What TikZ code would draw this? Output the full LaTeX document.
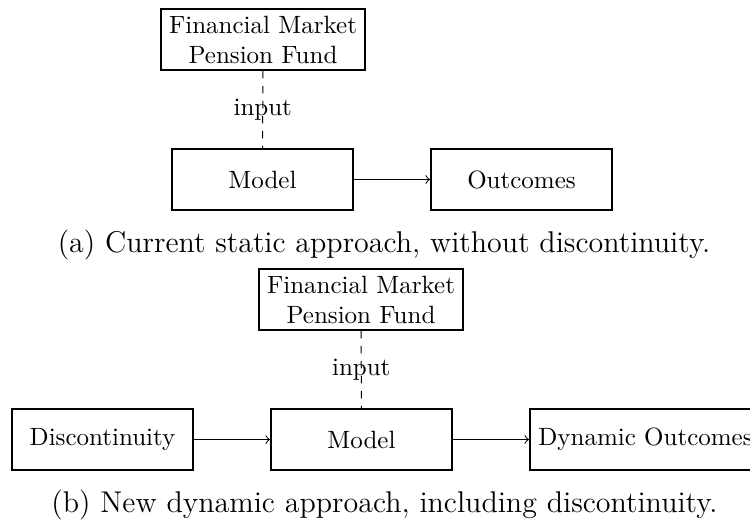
\documentclass[tikz,border=0pt]{standalone}
\usetikzlibrary{arrows}
\begin{document}
\begin{tikzpicture}[x=0.4pt,y=-0.4pt,
  box/.style={draw, line width=0.8pt, minimum width=72.4pt, minimum height=24.4pt, inner sep=3.33pt},
  srcbox/.style={draw, line width=0.8pt, align=center, inner xsep=3.33pt, inner ysep=2.6pt},
  link/.style={->, line width=0.4pt},
  feed/.style={dashed, line width=0.4pt},
  caption/.style={font=\large, inner sep=0pt, anchor=base}]
\useasboundingbox (0,0) rectangle (750,520);

% (a) static approach
\node[srcbox] (fma) at (263,39.5) {Financial Market\\Pension Fund};
\node[box] (modela) at (262.5,179.5) {Model};
\node[box] (outa) at (521.5,179.5) {Outcomes};
\draw[feed] (fma) -- node {input} (modela);
\draw[link] (modela) -- (outa);
\node[caption] (capa) at (384,252) {(a) Current static approach, without discontinuity.};

% (b) dynamic approach
\node[srcbox] (fmb) at (361,299.5) {Financial Market\\Pension Fund};
\node[box] (disc) at (102.5,439.5) {Discontinuity};
\node[box] (modelb) at (361.5,439.5) {Model};
\node[box, anchor=west] (outb) at (529,439.5) {Dynamic Outcomes};
\draw[feed] (fmb) -- node {input} (modelb);
\draw[link] (disc) -- (modelb);
\draw[link] (modelb) -- (outb);
\node[caption] (capb) at (384.5,512) {(b) New dynamic approach, including discontinuity.};
\end{tikzpicture}
\end{document}
